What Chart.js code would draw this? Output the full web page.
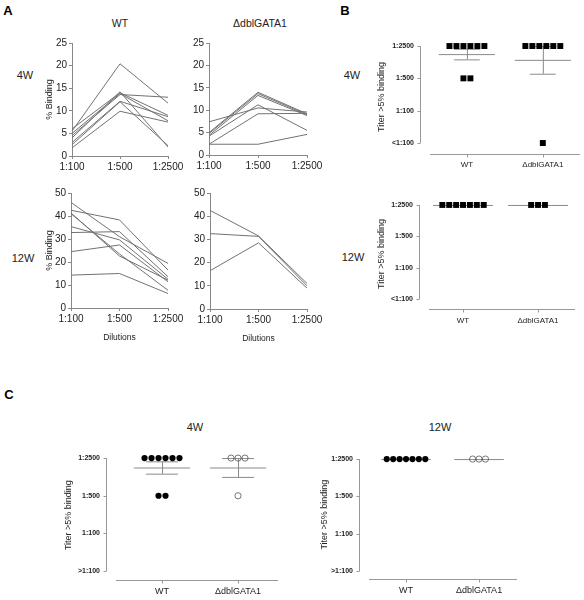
<!DOCTYPE html>
<html>
<head>
<meta charset="utf-8">
<script src="https://cdn.jsdelivr.net/npm/chart.js@4.4.1/dist/chart.umd.min.js"></script>
<style>
  body { margin: 0; background: #fff; width: 584px; height: 600px; position: relative; overflow: hidden;
         font-family: "Liberation Sans", Arial, sans-serif; }
  canvas { position: absolute; }
  .t { position: absolute; transform: translate(-50%, -50%); white-space: nowrap; color: #222; }
  .p { position: absolute; font-weight: bold; font-size: 13px; color: #000; transform: translate(-50%, -50%); }
</style>
</head>
<body>
<div class="p" style="left:8px;top:10px">A</div>
<div class="p" style="left:345px;top:10px">B</div>
<div class="p" style="left:9px;top:394px">C</div>

<div class="t" style="left:120px;top:23px;font-size:10.5px">WT</div>
<div class="t" style="left:260px;top:23px;font-size:10.5px">ΔdblGATA1</div>
<div class="t" style="left:25px;top:75px;font-size:11px">4W</div>
<div class="t" style="left:23px;top:258px;font-size:11px">12W</div>
<div class="t" style="left:352px;top:75px;font-size:11px">4W</div>
<div class="t" style="left:353px;top:257px;font-size:11px">12W</div>
<div class="t" style="left:195px;top:427px;font-size:11px">4W</div>
<div class="t" style="left:440px;top:427px;font-size:11px">12W</div>

<script>
// Panel A: % binding per animal at each dilution
const dilutions = ['1:100', '1:500', '1:2500'];
const wt4w = [
  [5.5, 20.4, 11.7], [4.5, 13.6, 13.0], [4.0, 14.2, 2.0], [6.0, 14.0, 9.0],
  [3.0, 12.1, 8.7], [5.0, 13.8, 7.8], [1.8, 9.9, 7.5], [2.5, 12.0, 2.3]
];
const ko4w = [
  [7.4, 10.5, 9.6], [5.0, 14.0, 9.2], [4.8, 13.7, 9.0], [4.4, 13.3, 8.8],
  [4.2, 11.2, 5.5], [2.4, 9.2, 9.3], [2.4, 2.4, 4.6]
];
const wt12w = [
  [42.5, 38.3, 16.5], [45.9, 31.0, 19.4], [41.3, 22.6, 12.1], [35.4, 29.6, 12.5],
  [32.8, 33.2, 13.6], [24.5, 27.4, 11.4], [14.3, 15.0, 6.3], [41.0, 23.5, 7.7]
];
const ko12w = [[42.5, 31.5, 11.0], [32.5, 31.3, 10.0], [16.5, 28.5, 9.0]];

// Panels B and C: titer index (0 = lowest, 3 = 1:2500)
const groups = ['WT', 'ΔdblGATA1'];
const titerLabelsB = ['<1:100', '1:100', '1:500', '1:2500'];
const titerLabelsC = ['>1:100', '1:100', '1:500', '1:2500'];
const bWT4w = [3, 3, 3, 3, 3, 3, 2, 2];
const bKO4w = [3, 3, 3, 3, 3, 3, 0];
const bWT12w = [3, 3, 3, 3, 3, 3, 3];
const bKO12w = [3, 3, 3];
const cWT4w = [3, 3, 3, 3, 3, 3, 2, 2];
const cKO4w = [3, 3, 3, 2];
const cWT12w = [3, 3, 3, 3, 3, 3, 3];
const cKO12w = [3, 3, 3];

Chart.defaults.font.family = '"Liberation Sans", Arial, sans-serif';
Chart.defaults.color = '#222';
Chart.defaults.animation = false;

function canvasAt(r) {
  const c = document.createElement('canvas');
  c.width = r.w;
  c.height = r.h;
  Object.assign(c.style, { left: r.x + 'px', top: r.y + 'px', width: r.w + 'px', height: r.h + 'px' });
  document.body.appendChild(c);
  return c;
}

// padding and fixed scale sizes so the plot area lands where wanted
function frame(r, a, titleX, titleSize) {
  const pl = titleX ? titleX - titleSize * 0.6 - r.x : 0;
  return {
    padding: { left: pl, top: a.t - r.y, right: r.x + r.w - a.r, bottom: 0 },
    yWidth: a.l - r.x - pl,
    xHeight: r.y + r.h - a.b
  };
}

function dilutionChart(r, a, lines, ymax, step, yTitle, xTitle) {
  const f = frame(r, a, yTitle ? 50 : 0, 9);
  const tickGrid = { display: true, drawOnChartArea: false, tickLength: 3, color: '#888' };
  new Chart(canvasAt(r), {
    type: 'line',
    data: {
      labels: dilutions,
      datasets: lines.map(d => ({
        data: d, borderColor: '#727272', borderWidth: 1, pointRadius: 0, fill: false, tension: 0
      }))
    },
    options: {
      responsive: false, devicePixelRatio: 1, events: [],
      layout: { padding: f.padding },
      plugins: { legend: { display: false }, tooltip: { enabled: false } },
      scales: {
        x: {
          offset: false,
          afterFit: s => { s.height = f.xHeight; },
          border: { color: '#888' },
          grid: tickGrid,
          ticks: { font: { size: 10 }, padding: 2, maxRotation: 0, autoSkip: false },
          title: { display: xTitle, text: 'Dilutions', font: { size: 8.5 }, padding: { top: 0, bottom: 5 } }
        },
        y: {
          min: 0, max: ymax,
          afterFit: s => { s.width = f.yWidth; },
          border: { color: '#888' },
          grid: tickGrid,
          ticks: { stepSize: step, font: { size: 10 }, padding: 2 },
          title: { display: yTitle, text: '% Binding', font: { size: 9 }, padding: 0 }
        }
      }
    }
  });
}

// spread equal values side by side around the group centre
function swarm(vals, center, step) {
  const counts = {}, seen = {};
  vals.forEach(v => { counts[v] = (counts[v] || 0) + 1; });
  return vals.map(v => {
    seen[v] = seen[v] === undefined ? 0 : seen[v] + 1;
    return { x: center + (seen[v] - (counts[v] - 1) / 2) * step, y: v };
  });
}

const meanSem = {
  id: 'meanSem',
  beforeDatasetsDraw(chart, args, o) {
    const { ctx, scales: { x, y } } = chart;
    const unit = x.getPixelForValue(1) - x.getPixelForValue(0);
    ctx.save();
    ctx.strokeStyle = '#8a8a8a';
    ctx.lineWidth = 1;
    o.groups.forEach((vals, gi) => {
      const n = vals.length;
      const m = vals.reduce((s, v) => s + v, 0) / n;
      const sd = n > 1 ? Math.sqrt(vals.reduce((s, v) => s + (v - m) ** 2, 0) / (n - 1)) : 0;
      const se = sd / Math.sqrt(n);
      const cx = x.getPixelForValue(gi + 1);
      const ym = y.getPixelForValue(m), yl = y.getPixelForValue(m - se), yh = y.getPixelForValue(m + se);
      const mh = o.meanHalf * unit, ch = o.capHalf * unit;
      ctx.beginPath();
      ctx.moveTo(cx - mh, ym + 0.5); ctx.lineTo(cx + mh, ym + 0.5);
      if (se > 0) {
        ctx.moveTo(cx + 0.5, yl); ctx.lineTo(cx + 0.5, yh);
        ctx.moveTo(cx - ch, yl + 0.5); ctx.lineTo(cx + ch, yl + 0.5);
        ctx.moveTo(cx - ch, yh + 0.5); ctx.lineTo(cx + ch, yh + 0.5);
      }
      ctx.stroke();
    });
    ctx.restore();
  }
};

const titerAxes = {
  id: 'titerAxes',
  beforeDatasetsDraw(chart, args, o) {
    const { ctx, chartArea: a, scales: { x, y } } = chart;
    ctx.save();
    ctx.strokeStyle = '#999';
    ctx.lineWidth = 1;
    ctx.beginPath();
    const ax = Math.round(a.left) + 0.5;
    ctx.moveTo(ax, y.getPixelForValue(3));
    ctx.lineTo(ax, y.getPixelForValue(0));
    y.ticks.forEach(t => {
      const py = Math.round(y.getPixelForValue(t.value)) + 0.5;
      ctx.moveTo(ax - 3, py); ctx.lineTo(ax, py);
    });
    const by = Math.round(a.bottom) + 0.5;
    ctx.moveTo(a.left + o.gap, by);
    ctx.lineTo(a.right, by);
    x.ticks.forEach(t => {
      const px = Math.round(x.getPixelForValue(t.value)) + 0.5;
      ctx.moveTo(px, by); ctx.lineTo(px, by + 3);
    });
    ctx.stroke();
    ctx.restore();
  }
};

function titerChart(r, a, o) {
  const f = frame(r, a, o.titleX, 9);
  const datasets = [o.wt, o.ko].map((vals, gi) => {
    const hollow = gi === 1 && o.hollow;
    return {
      data: swarm(vals, gi + 1, o.step),
      pointStyle: o.shape,
      pointRadius: o.radius,
      pointBackgroundColor: hollow ? 'rgba(0,0,0,0)' : '#000',
      pointBorderColor: hollow ? '#555' : '#000',
      pointBorderWidth: hollow ? 0.8 : 0,
      showLine: false,
      clip: false
    };
  });
  new Chart(canvasAt(r), {
    type: 'scatter',
    data: { datasets },
    options: {
      responsive: false, devicePixelRatio: 1, events: [],
      layout: { padding: f.padding },
      plugins: {
        legend: { display: false }, tooltip: { enabled: false },
        meanSem: { groups: [o.wt, o.ko], meanHalf: o.meanHalf, capHalf: o.capHalf },
        titerAxes: { gap: 10 }
      },
      scales: {
        x: {
          type: 'linear', min: o.xMin, max: o.xMax,
          afterFit: s => { s.height = f.xHeight; },
          afterBuildTicks: s => { s.ticks = groups.map((g, i) => ({ value: i + 1 })); },
          grid: { display: false, drawTicks: false },
          border: { display: false },
          ticks: { callback: v => groups[v - 1], font: { size: o.xFont }, padding: o.xPad, maxRotation: 0, autoSkip: false }
        },
        y: {
          min: o.yMin, max: o.yMax,
          afterFit: s => { s.width = f.yWidth; },
          afterBuildTicks: s => { s.ticks = o.labels.map((l, i) => ({ value: i })); },
          grid: { display: false, drawTicks: false },
          border: { display: false },
          ticks: { callback: v => o.labels[v], font: { size: 7, weight: 'bold' }, padding: 6, autoSkip: false },
          title: { display: true, text: 'Titer >5% binding', font: { size: 9 }, padding: 0 }
        }
      }
    },
    plugins: [meanSem, titerAxes]
  });
}

// Panel A
dilutionChart({ x: 30, y: 33, w: 160, h: 147 }, { l: 72, r: 168, t: 43, b: 156 }, wt4w, 25, 5, true, false);
dilutionChart({ x: 170, y: 33, w: 160, h: 146 }, { l: 209, r: 307, t: 43, b: 155 }, ko4w, 25, 5, false, false);
dilutionChart({ x: 30, y: 183, w: 160, h: 165 }, { l: 71, r: 168, t: 193, b: 308 }, wt12w, 50, 10, true, true);
dilutionChart({ x: 170, y: 183, w: 160, h: 166 }, { l: 210, r: 307, t: 193, b: 309 }, ko12w, 50, 10, false, true);

// Panel B
titerChart({ x: 340, y: 28, w: 244, h: 152 }, { l: 420, r: 580, t: 40, b: 154 }, {
  titleX: 382, wt: bWT4w, ko: bKO4w, labels: titerLabelsB, shape: 'rect', radius: 4.2, hollow: false,
  step: 0.092, meanHalf: 0.37, capHalf: 0.17, xMin: 0.382, xMax: 2.487, yMin: -0.34, yMax: 3.186,
  xFont: 8, xPad: 6
});
titerChart({ x: 340, y: 188, w: 244, h: 142 }, { l: 419, r: 575, t: 199, b: 309 }, {
  titleX: 382, wt: bWT12w, ko: bKO12w, labels: titerLabelsB, shape: 'rect', radius: 4.2, hollow: false,
  step: 0.092, meanHalf: 0.4, capHalf: 0.17, xMin: 0.413, xMax: 2.493, yMin: -0.32, yMax: 3.19,
  xFont: 8, xPad: 7
});

// Panel C
titerChart({ x: 40, y: 440, w: 260, h: 160 }, { l: 106, r: 278, t: 448, b: 580 }, {
  titleX: 69, wt: cWT4w, ko: cKO4w, labels: titerLabelsC, shape: 'circle', radius: 3.1, hollow: true,
  step: 0.092, meanHalf: 0.37, capHalf: 0.21, xMin: 0.263, xMax: 2.526, yMin: -0.235, yMax: 3.209,
  xFont: 9, xPad: 6
});
titerChart({ x: 300, y: 440, w: 284, h: 160 }, { l: 359, r: 517, t: 448, b: 579 }, {
  titleX: 325, wt: cWT12w, ko: cKO12w, labels: titerLabelsC, shape: 'circle', radius: 3.1, hollow: true,
  step: 0.088, meanHalf: 0.34, capHalf: 0.2, xMin: 0.356, xMax: 2.52, yMin: -0.21, yMax: 3.237,
  xFont: 9, xPad: 6
});
</script>
</body>
</html>
